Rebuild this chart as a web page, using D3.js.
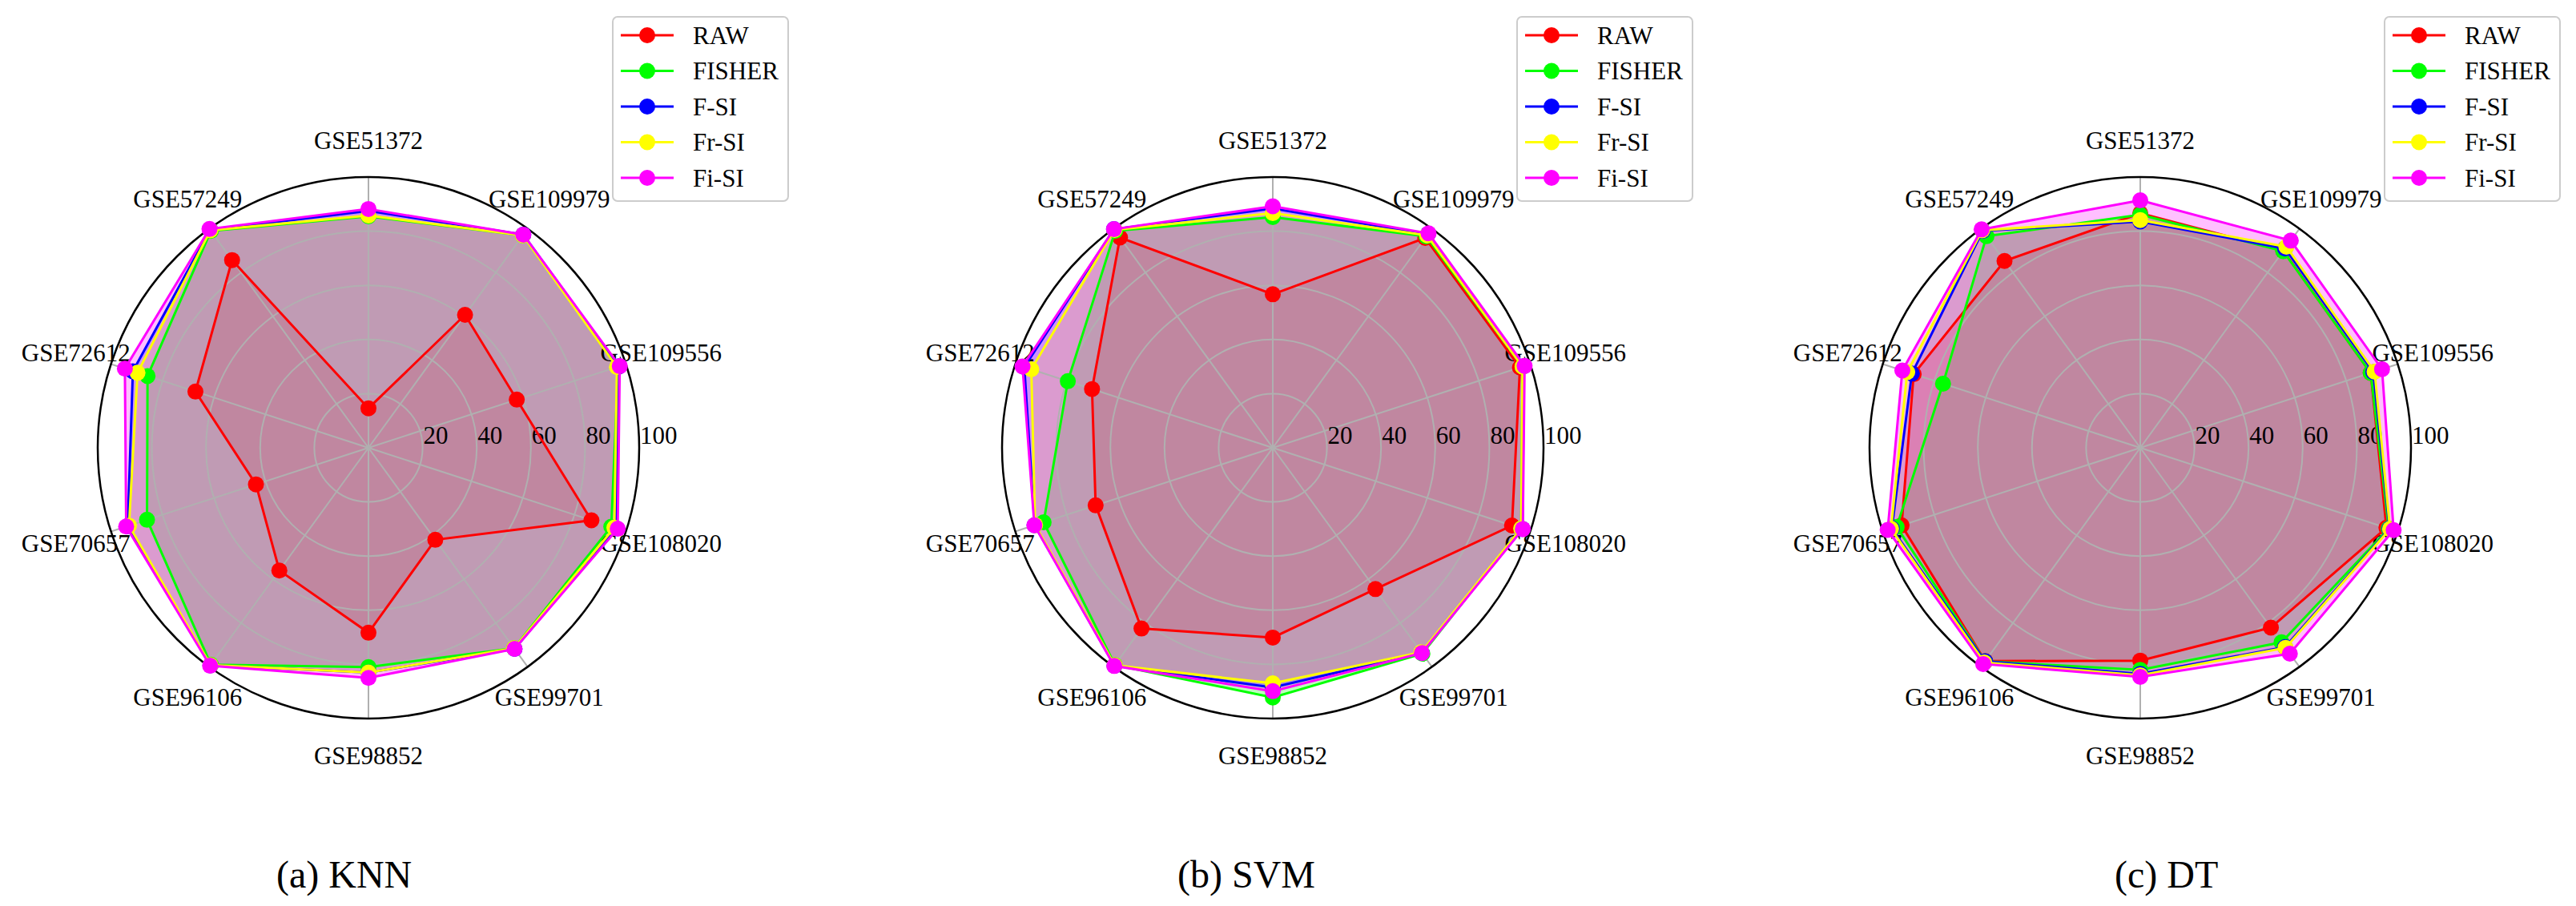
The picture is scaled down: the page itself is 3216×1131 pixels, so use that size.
<!DOCTYPE html>
<html>
<head>
<meta charset="utf-8">
<script src="https://cdn.jsdelivr.net/npm/d3@7"></script>
<style>
  body { margin: 0; background: #fff; }
  text { font-family: 'Liberation Serif', 'Times New Roman', serif; fill: #000; }
</style>
</head>
<body>
<div id="radar-container"></div>
<script>
// categories run clockwise from the top
const categories = ['GSE51372', 'GSE109979', 'GSE109556', 'GSE108020', 'GSE99701',
  'GSE98852', 'GSE96106', 'GSE70657', 'GSE72612', 'GSE57249'];
const methods = ['RAW', 'FISHER', 'F-SI', 'Fr-SI', 'Fi-SI'];
const methodColors = ['#ff0000', '#00ff00', '#0000ff', '#ffff00', '#ff00ff'];
const radialTicks = [20, 40, 60, 80, 100];
const captions = ['(a) KNN', '(b) SVM', '(c) DT'];

const knnRaw    = [14.6, 60.7, 57.6, 86.6, 42.0, 68.3, 56.0, 43.7, 67.2, 85.7];
const knnFisher = [85.5, 97.0, 97.0, 94.3, 91.5, 81.0, 99.0, 86.0, 85.8, 99.0];
const knnFSI    = [87.5, 97.3, 97.3, 96.0, 91.8, 83.0, 99.3, 93.5, 91.5, 99.5];
const knnFrSI   = [85.8, 97.0, 96.5, 95.5, 91.5, 83.0, 99.2, 93.0, 89.7, 99.3];
const knnFiSI   = [88.2, 97.3, 97.6, 96.8, 91.8, 85.0, 99.5, 94.1, 94.6, 99.9];

const svmRaw    = [56.7, 95.8, 96.0, 92.9, 64.5, 70.1, 82.5, 68.8, 70.2, 96.0];
const svmFisher = [85.2, 96.5, 97.0, 96.5, 94.0, 92.2, 99.2, 89.0, 79.6, 99.0];
const svmFSI    = [88.4, 97.5, 97.5, 97.0, 93.5, 88.5, 99.5, 92.5, 96.5, 99.8];
const svmFrSI   = [86.7, 97.0, 97.0, 96.5, 93.3, 87.0, 99.3, 92.3, 93.8, 99.5];
const svmFiSI   = [89.2, 97.9, 97.8, 97.1, 93.7, 89.9, 99.6, 92.6, 97.2, 99.8];

const dtRaw     = [86.6, 89.9, 89.5, 95.6, 82.1, 78.6, 97.4, 92.7, 88.0, 85.3];
const dtFisher  = [86.1, 89.8, 89.5, 96.5, 88.8, 82.0, 97.5, 94.6, 76.6, 96.6];
const dtFSI     = [83.6, 91.0, 90.5, 96.8, 91.0, 83.5, 97.5, 96.5, 88.7, 99.0];
const dtFrSI    = [84.1, 91.8, 91.0, 97.0, 91.3, 84.0, 98.0, 96.8, 90.5, 99.3];
const dtFiSI    = [91.4, 94.6, 93.9, 98.4, 94.0, 84.6, 98.7, 98.1, 92.4, 99.7];

const width = 3216;
const height = 1131;
const radius = 338;
const centerY = 559;

const panels = [
  { cx: 460,  capX: 345,  series: [knnRaw, knnFisher, knnFSI, knnFrSI, knnFiSI] },
  { cx: 1589, capX: 1470, series: [svmRaw, svmFisher, svmFSI, svmFrSI, svmFiSI] },
  { cx: 2672, capX: 2640, series: [dtRaw, dtFisher, dtFSI, dtFrSI, dtFiSI] }
];

const svg = d3.select('#radar-container')
  .append('svg')
  .attr('width', width)
  .attr('height', height);

svg.append('rect').attr('width', width).attr('height', height).attr('fill', '#fff');

const rScale = d3.scaleLinear().domain([0, 100]).range([0, radius]);
const angleScale = d3.scaleLinear().domain([0, categories.length]).range([0, 2 * Math.PI]);

const radarLine = d3.lineRadial()
  .angle(function(d, i) { return angleScale(i); })
  .radius(function(d) { return rScale(d); })
  .curve(d3.curveLinearClosed);

function pointXY(v, i) {
  const a = angleScale(i);
  return [Math.sin(a) * rScale(v), -Math.cos(a) * rScale(v)];
}

panels.forEach(function(p, pi) {
  const g = svg.append('g')
    .attr('class', 'panel')
    .attr('transform', 'translate(' + p.cx + ',' + centerY + ')');

  // fills sit under everything else (like matplotlib patches)
  g.selectAll('path.area')
    .data(p.series)
    .enter()
    .append('path')
    .attr('class', 'area')
    .attr('d', function(d) { return radarLine(d); })
    .style('fill', function(d, i) { return methodColors[i]; })
    .style('fill-opacity', 0.25)
    .style('stroke', 'none');

  // grid rings
  g.selectAll('circle.ring')
    .data(radialTicks.slice(0, -1))
    .enter()
    .append('circle')
    .attr('class', 'ring')
    .attr('r', function(d) { return rScale(d); })
    .style('fill', 'none')
    .style('stroke', '#b0b0b0')
    .style('stroke-width', 2);

  // spokes
  g.selectAll('line.spoke')
    .data(categories)
    .enter()
    .append('line')
    .attr('class', 'spoke')
    .attr('x1', 0).attr('y1', 0)
    .attr('x2', function(d, i) { return pointXY(100, i)[0]; })
    .attr('y2', function(d, i) { return pointXY(100, i)[1]; })
    .style('stroke', '#b0b0b0')
    .style('stroke-width', 2);

  // outer spine
  g.append('circle')
    .attr('r', rScale(100))
    .style('fill', 'none')
    .style('stroke', '#000')
    .style('stroke-width', 2.5);

  // radial tick labels
  g.selectAll('text.rtick')
    .data(radialTicks)
    .enter()
    .append('text')
    .attr('class', 'rtick')
    .attr('x', function(d) { return rScale(d) + 1; })
    .attr('y', -5)
    .style('font-size', '31px')
    .text(function(d) { return d; });

  // category labels
  g.selectAll('text.cat')
    .data(categories)
    .enter()
    .append('text')
    .attr('class', 'cat')
    .attr('x', function(d, i) { return Math.sin(angleScale(i)) * (radius + 46); })
    .attr('y', function(d, i) { return -Math.cos(angleScale(i)) * (radius + 46); })
    .attr('dy', '0.35em')
    .style('text-anchor', 'middle')
    .style('font-size', '31px')
    .text(function(d) { return d; });

  // lines and markers, one group per method
  const seriesGroups = g.selectAll('g.series')
    .data(p.series)
    .enter()
    .append('g')
    .attr('class', 'series');

  seriesGroups.append('path')
    .attr('d', function(d) { return radarLine(d); })
    .style('fill', 'none')
    .style('stroke', function(d, i) { return methodColors[i]; })
    .style('stroke-width', 3);

  seriesGroups.each(function(vals, si) {
    d3.select(this).selectAll('circle.pt')
      .data(vals)
      .enter()
      .append('circle')
      .attr('class', 'pt')
      .attr('cx', function(d, i) { return pointXY(d, i)[0]; })
      .attr('cy', function(d, i) { return pointXY(d, i)[1]; })
      .attr('r', 10)
      .style('fill', methodColors[si]);
  });

  // legend
  const legend = svg.append('g')
    .attr('class', 'legend')
    .attr('transform', 'translate(' + (p.cx + 305) + ',21)');

  legend.append('rect')
    .attr('width', 219)
    .attr('height', 230)
    .attr('rx', 6)
    .style('fill', '#fff')
    .style('fill-opacity', 0.8)
    .style('stroke', '#cccccc')
    .style('stroke-width', 2);

  const items = legend.selectAll('g.item')
    .data(methods)
    .enter()
    .append('g')
    .attr('class', 'item')
    .attr('transform', function(d, i) { return 'translate(0,' + (23 + i * 44.5) + ')'; });

  items.append('line')
    .attr('x1', 10).attr('x2', 76)
    .style('stroke', function(d, i) { return methodColors[i]; })
    .style('stroke-width', 3);

  items.append('circle')
    .attr('cx', 43)
    .attr('r', 10)
    .style('fill', function(d, i) { return methodColors[i]; });

  items.append('text')
    .attr('x', 100)
    .attr('dy', '0.35em')
    .style('font-size', '31px')
    .text(function(d) { return d; });

  // caption below the panel
  svg.append('text')
    .attr('class', 'caption')
    .attr('x', p.capX)
    .attr('y', 1108)
    .style('font-size', '48px')
    .text(captions[pi]);
});
</script>
</body>
</html>
